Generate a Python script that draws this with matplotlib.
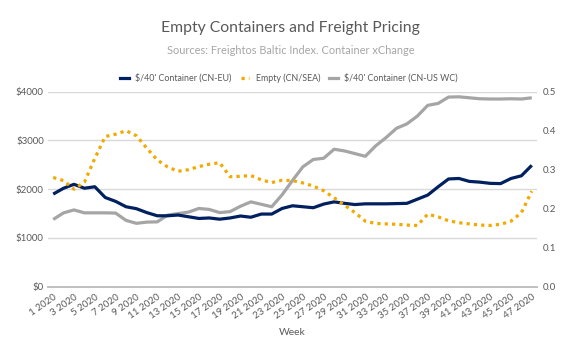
import matplotlib
matplotlib.use("Agg")
import matplotlib.pyplot as plt
from matplotlib.lines import Line2D

plt.rcParams["font.family"] = ["Lato", "DejaVu Sans"]

# weekly values
weeks = list(range(1, 48))
week_labels = [f"{w} 2020" for w in weeks]

cn_eu = [1900, 2020, 2100, 2020, 2050, 1830, 1750, 1640, 1600, 1520,
         1455, 1455, 1470, 1435, 1400, 1410, 1385, 1410, 1450, 1425,
         1490, 1490, 1605, 1660, 1640, 1620, 1695, 1740, 1710, 1685,
         1700, 1700, 1700, 1705, 1710, 1795, 1880, 2050, 2210, 2220,
         2160, 2145, 2120, 2115, 2220, 2275, 2490]

cn_us_wc = [1380, 1515, 1575, 1515, 1515, 1515, 1510, 1360, 1300, 1325,
            1330, 1470, 1500, 1530, 1605, 1585, 1520, 1540, 1650, 1740,
            1690, 1640, 1885, 2180, 2460, 2610, 2635, 2820, 2785, 2730,
            2675, 2890, 3060, 3250, 3340, 3500, 3720, 3760, 3890, 3895,
            3875, 3855, 3850, 3850, 3855, 3850, 3875]

empty_sea = [0.280, 0.272, 0.250, 0.268, 0.329, 0.385, 0.391, 0.400, 0.387, 0.355,
             0.325, 0.307, 0.296, 0.300, 0.308, 0.314, 0.318, 0.282, 0.283, 0.285,
             0.274, 0.267, 0.273, 0.272, 0.266, 0.258, 0.246, 0.228, 0.209, 0.190,
             0.168, 0.162, 0.161, 0.160, 0.158, 0.157, 0.186, 0.179, 0.169, 0.164,
             0.161, 0.158, 0.157, 0.160, 0.168, 0.190, 0.245]

navy = "#002060"
gold = "#F2A900"
grey = "#A5A5A5"
text_c = "#595959"

fig = plt.figure(figsize=(5.76, 3.56), dpi=100)
ax = fig.add_axes([48 / 576, 1 - 286.7 / 356, 489 / 576, 195 / 356])
ax2 = ax.twinx()

ax.plot(weeks, cn_eu, color=navy, lw=2.3, solid_capstyle="butt", zorder=4)
ax.plot(weeks, cn_us_wc, color=grey, lw=2.3, solid_capstyle="butt", zorder=3)
ax2.plot(weeks, empty_sea, color=gold, lw=2.3, ls=(0, (1, 1.3)),
         dash_capstyle="butt")

ax.set_xlim(0.5, 47.5)
ax.set_ylim(0, 4000)
ax2.set_ylim(0, 0.5)

ax.set_yticks([0, 1000, 2000, 3000, 4000])
ax.set_yticklabels([f"${v}" for v in [0, 1000, 2000, 3000, 4000]])
ax2.set_yticks([0, 0.1, 0.2, 0.3, 0.4, 0.5])
ax2.set_yticklabels([f"{v:.1f}" for v in [0, 0.1, 0.2, 0.3, 0.4, 0.5]])

ax.set_xticks(weeks[::2])
ax.set_xticklabels(week_labels[::2], rotation=35, ha="right",
                   rotation_mode="anchor")

ax.grid(axis="y", color="#D9D9D9", lw=1)
ax.set_axisbelow(True)
for a in (ax, ax2):
    for s in ("top", "left", "right"):
        a.spines[s].set_visible(False)
    a.spines["bottom"].set_color("#BFBFBF")
    a.spines["bottom"].set_linewidth(1.2)
    a.tick_params(length=0, labelsize=7, colors=text_c)
ax.tick_params(axis="x", pad=4, labelsize=7)
ax.tick_params(axis="y", pad=3)
ax2.tick_params(axis="y", pad=4)

ax.set_xlabel("Week", fontsize=7.5, color=text_c, labelpad=5)

fig.text(0.505, 1 - 28 / 356, "Empty Containers and Freight Pricing",
         ha="center", va="center", fontsize=11.3, color=text_c)
fig.text(0.505, 1 - 51 / 356, "Sources: Freightos Baltic Index. Container xChange",
         ha="center", va="center", fontsize=7.9, color="#A6A6A6")

handles = [
    Line2D([], [], color=navy, lw=2.3),
    Line2D([], [], color=gold, lw=2.3, ls=(0, (1, 1.3)), dash_capstyle="butt"),
    Line2D([], [], color=grey, lw=2.3),
]
labels = ["$/40' Container (CN-EU)", "Empty (CN/SEA)", "$/40' Container (CN-US WC)"]
fig.legend(handles, labels, loc="center", bbox_to_anchor=(289 / 576, 1 - 78 / 356),
           ncol=3, frameon=False, fontsize=6.4, handlelength=1.0,
           handletextpad=0.7, columnspacing=1.0, labelcolor=text_c)

fig.savefig("out.png", dpi=100)
